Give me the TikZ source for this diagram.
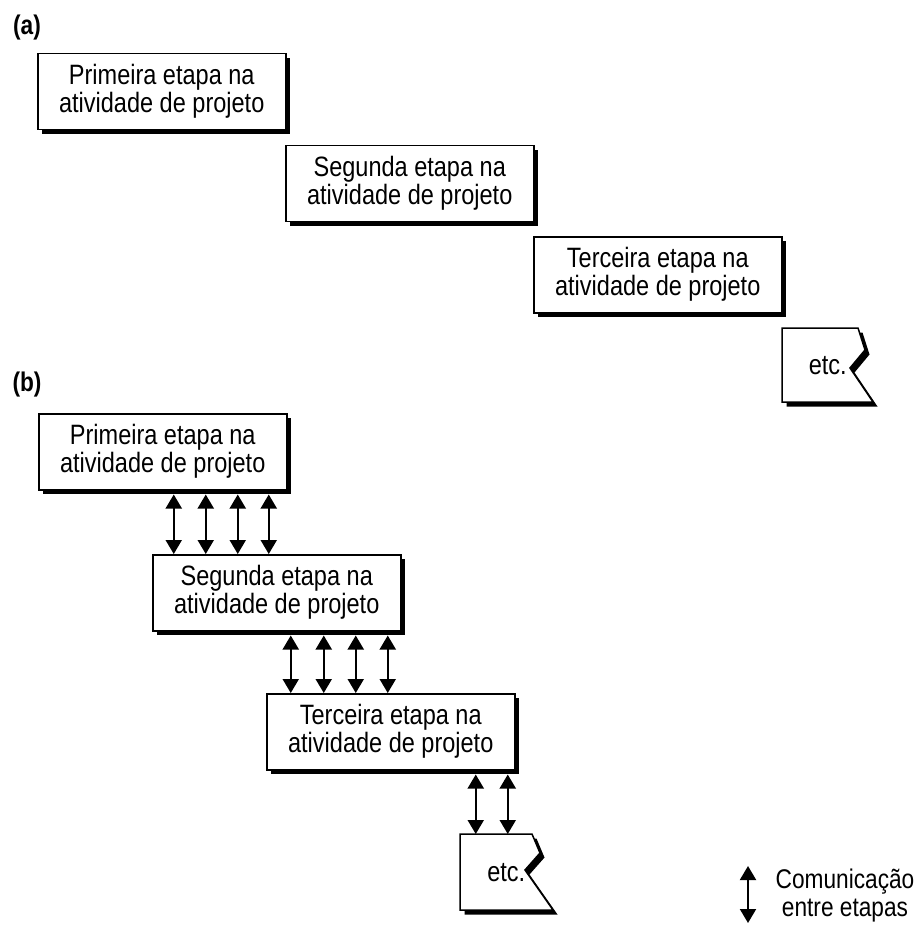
\documentclass[tikz,border=0pt]{standalone}
\usepackage{fontspec}
\setmainfont{Liberation Sans}[FakeStretch=0.84]
\usetikzlibrary{shadows,arrows.meta}

\begin{document}
\begin{tikzpicture}[x=1pt,y=-1pt,
  boxshadow/.style={drop shadow={shadow xshift=4.5pt,shadow yshift=-4.5pt,opacity=1,fill=black}},
  stagebox/.style={draw=black,line width=1.5pt,fill=white,boxshadow,
    minimum width=248pt,minimum height=76pt,inner sep=0pt,anchor=north west,
    align=center,font=\fontsize{28}{28}\selectfont},
  etcshape/.style={draw=black,line width=1.5pt,fill=white,boxshadow,line join=miter},
  etclabel/.style={inner sep=0pt,anchor=north west,font=\fontsize{28}{28}\selectfont},
  partlabel/.style={font=\bfseries\fontsize{27}{28}\selectfont,inner sep=0pt},
  comm/.style={line width=2pt,{Triangle[width=16pt,length=14pt]}-{Triangle[width=16pt,length=14pt]}},
  legendtext/.style={align=center,inner sep=0pt,font=\fontsize{27}{28}\selectfont}
]
\useasboundingbox (0,0) rectangle (917,925);

% ---------- (a) sequential stages ----------
\node[partlabel] (labela) at (27,28) {(a)};
\node[stagebox] (a1) at (37,53)  {Primeira etapa na\\atividade de projeto};
\node[stagebox] (a2) at (285,145) {Segunda etapa na\\atividade de projeto};
\node[stagebox] (a3) at (533,236) {Terceira etapa na\\atividade de projeto};
\path[etcshape] (782,328) -- (858,328) -- (865,350) -- (850,368) -- (873,402) -- (782,402) -- cycle;
\node[etclabel,minimum width=91pt,minimum height=74pt] (etca) at (782,328) {etc.};

% ---------- (b) overlapping stages ----------
\node[partlabel] (labelb) at (27,385) {(b)};
\node[stagebox] (b1) at (38,413)  {Primeira etapa na\\atividade de projeto};
\node[stagebox] (b2) at (152,554) {Segunda etapa na\\atividade de projeto};
\node[stagebox] (b3) at (266,693) {Terceira etapa na\\atividade de projeto};
\path[etcshape] (460,834) -- (532,834) -- (540,853) -- (525,870) -- (553,910) -- (460,910) -- cycle;
\node[etclabel,minimum width=92pt,minimum height=76pt] (etcb) at (460,834) {etc.};

% communication between stages
\foreach \dx in {11,43,75,106}
  \draw[comm] ([xshift=\dx pt,yshift=-4pt]b1.south) -- ([xshift=\dx pt]b1.south |- b2.north);
\foreach \dx in {14,47,79,111}
  \draw[comm] ([xshift=\dx pt,yshift=-4pt]b2.south) -- ([xshift=\dx pt]b2.south |- b3.north);
\foreach \dx in {85,117}
  \draw[comm] ([xshift=\dx pt,yshift=-4pt]b3.south) -- ([xshift=\dx pt]b3.south |- etcb.north);

% legend
\coordinate (legtop) at (748,866);
\coordinate (legbot) at (748,923);
\draw[comm] (legtop) -- (legbot);
\node[legendtext] (legend) at (845,896) {Comunicação\\entre etapas};
\end{tikzpicture}
\end{document}
